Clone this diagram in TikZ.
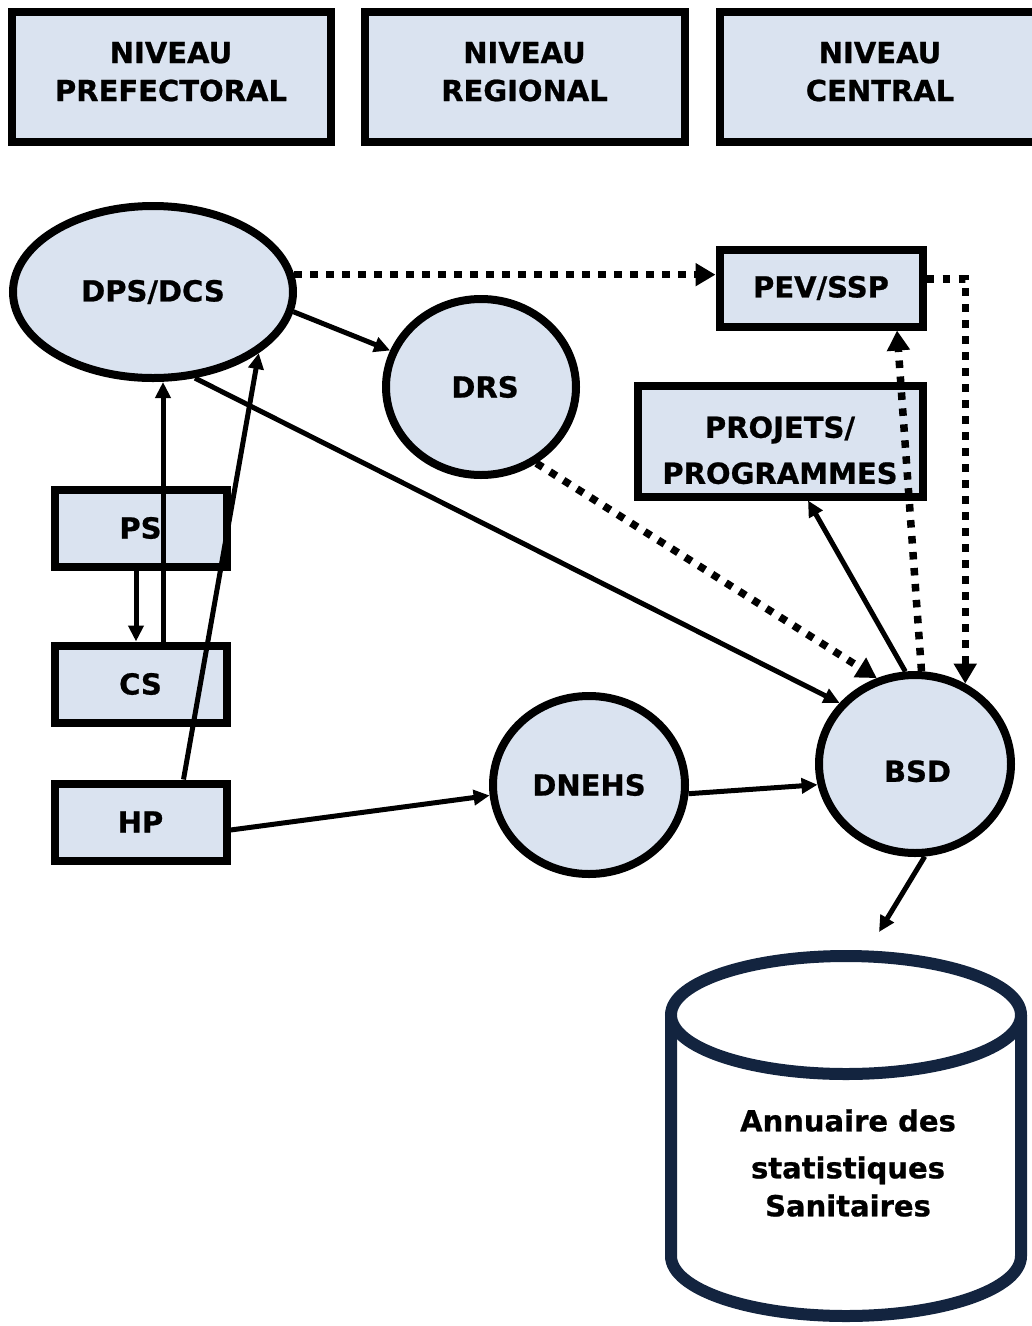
\documentclass[tikz,border=0pt]{standalone}
\usepackage{fontspec}
\setmainfont{DejaVu Sans}[BoldFeatures={FakeBold=0.8}]
\usetikzlibrary{shapes.geometric,arrows.meta,calc}
\definecolor{boxfill}{RGB}{218,227,240}
\definecolor{navy}{RGB}{19,36,63}
\begin{document}
\begin{tikzpicture}[x=1pt,y=-1pt,
  lbl/.style={font=\fontsize{29}{38}\selectfont\bfseries, align=center, text=black},
  box/.style={lbl, draw=black, line width=8pt, fill=boxfill, rectangle, inner sep=0pt},
  oval/.style={lbl, draw=black, line width=8pt, fill=boxfill, ellipse, inner sep=0pt},
  conn/.style={line width=5pt, -{Triangle[length=16pt,width=15pt]}},
  dotconn/.style={line width=7.5pt, dash pattern=on 7.5pt off 8.5pt, -{Triangle[length=20pt,width=22pt]}},
  cyl/.style={draw=navy, line width=12pt}]
\useasboundingbox (0,0) rectangle (1032,1326);

% level headers
\node[box, minimum width=319pt, minimum height=130pt] (lvpref) at (171,76.5) {NIVEAU\\PREFECTORAL\rule[-10pt]{0pt}{0pt}};
\node[box, minimum width=320pt, minimum height=130pt] (lvreg) at (524.5,76.5) {NIVEAU\\REGIONAL\rule[-10pt]{0pt}{0pt}};
\node[box, minimum width=320pt, minimum height=130pt] (lvcent) at (880,76.5) {NIVEAU\\CENTRAL\rule[-10pt]{0pt}{0pt}};

% ellipses
\node[oval, minimum width=280pt, minimum height=172pt] (dps) at (153,292) {DPS/DCS};
\node[oval, minimum width=190pt, minimum height=176pt] (drs) at (481,387) {\hspace*{8pt}DRS};
\node[oval, minimum width=192pt, minimum height=178pt] (dnehs) at (589,785) {DNEHS};
\node[oval, minimum width=192pt, minimum height=178pt] (bsd) at (915,764) {\hspace*{5pt}BSD\rule{0pt}{36pt}};

% boxes
\node[box, minimum width=203pt, minimum height=77pt] (pev) at (821,288) {PEV/SSP};
\node[box, minimum width=285pt, minimum height=111pt, font=\fontsize{29}{46}\selectfont\bfseries] (proj) at (780,441) {\rule{0pt}{40pt}PROJETS/\\PROGRAMMES};
\node[box, minimum width=172pt, minimum height=77pt] (ps) at (140.5,528) {PS};
\node[box, minimum width=172pt, minimum height=77pt] (cs) at (140.5,684) {CS};
\node[box, minimum width=172pt, minimum height=77pt] (hp) at (140.5,822) {HP};

% database cylinder
\draw[cyl, fill=white] (671,1015) -- (671,1256) arc[start angle=180, end angle=0, x radius=175, y radius=60] -- (1021,1015);
\draw[cyl, fill=white] (846,1015) ellipse [x radius=175, y radius=59];
\node[lbl] (db) at (848,1163) {Annuaire des\\[9pt]statistiques\\Sanitaires};
\coordinate (dbtop) at (879,932);

% helper points on node borders
\coordinate (csup) at ($(cs.north)+(22.5,0)$);
\coordinate (psdn) at ($(ps.south)+(-4.5,0)$);
\coordinate (hpup) at ($(hp.north)+(43,0)$);
\coordinate (hpout) at ($(hp.east)+(0,8)$);
\coordinate (projin) at ($(proj.south)+(28,0)$);
\coordinate (pevin) at ($(pev.south)+(76,0)$);
\coordinate (pevout) at ($(pev.east)+(0,-9)$);

% connectors
\draw[dotconn] (dps.7.5) -- (dps.7.5 -| pev.west);
\draw[conn] (dps.-8) -- (drs);
\draw[conn] (dps.-64) -- (bsd.141);
\draw[conn] (csup) -- (csup |- dps.south);
\draw[conn] (psdn) -- (psdn |- cs.north);
\draw[conn] (hpup) -- (dps.-30);
\draw[conn] (hpout) -- (dnehs.186);
\draw[conn] (dnehs.-5) -- (bsd.192);
\draw[dotconn] (drs.-54) -- (bsd.114);
\draw[conn] (bsd.96) -- (projin);
\draw[dotconn] (bsd.86) -- (pevin);
\draw[dotconn] (pevout) -| (bsd.58);
\draw[conn] (bsd.-84) -- (dbtop);
\end{tikzpicture}
\end{document}
